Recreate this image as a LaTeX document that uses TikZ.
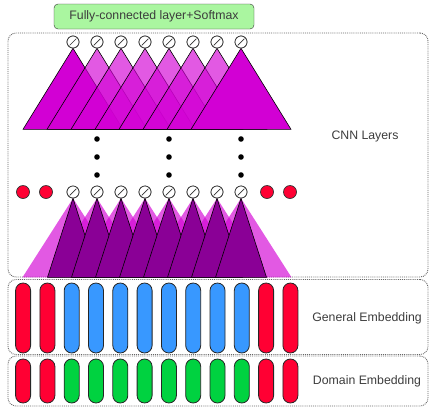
\documentclass[tikz,border=0pt]{standalone}
\usepackage{fontspec}
\setmainfont{Liberation Sans}
\usepackage{tikz}
\usetikzlibrary{positioning, calc, shapes}
\definecolor{tripink}{RGB}{210,0,212}
\definecolor{tripurple}{RGB}{138,0,150}
\definecolor{padred}{RGB}{255,0,51}
\definecolor{embblue}{RGB}{56,152,255}
\definecolor{embgreen}{RGB}{0,210,64}
\definecolor{fcgreen}{RGB}{170,246,160}
\definecolor{labelgray}{RGB}{60,60,60}
\tikzstyle{unit} = [circle, draw=black!80, line width=0.7pt, fill=white, minimum size=12pt, inner sep=0pt,
  path picture={\draw[black!80, line width=0.7pt] ($(path picture bounding box.south west)!0.22!(path picture bounding box.north east)$) -- ($(path picture bounding box.south west)!0.78!(path picture bounding box.north east)$);}]
\tikzstyle{pad} = [circle, draw=black!80, line width=0.7pt, fill=padred, minimum size=13pt, inner sep=0pt]
\tikzstyle{pill} = [rectangle, rounded corners=7.5pt, draw=black!85, line width=0.8pt, minimum width=15pt, inner sep=0pt]
\tikzstyle{frame} = [rectangle, rounded corners=8pt, draw=black!60, densely dotted, line width=0.9pt, inner sep=0pt]
\tikzstyle{label} = [text=labelgray, font=\fontsize{12.3}{14}\selectfont]
\tikzstyle{tri} = [fill=tripink, draw=black, line width=0.6pt, line join=round]

\begin{document}
\begin{tikzpicture}[x=1pt, y=-1pt]
    \useasboundingbox (0,0) rectangle (435,418);

    % Rahmen
    \node (cnnbox) [frame, minimum width=420pt, minimum height=244pt] at (218,155) {};
    \node (genbox) [frame, minimum width=420pt, minimum height=75pt] at (218,317) {};
    \node (dombox) [frame, minimum width=420pt, minimum height=50pt] at (218,381) {};

    % Ausgabe
    \node (fc) [rectangle, rounded corners=4pt, draw=black!80, fill=fcgreen, minimum width=200pt, minimum height=25pt, label] at (154,16.5) {Fully-connected layer+Softmax};

    % obere Schicht
    \foreach \i in {1,...,8}
        \node (t\i) [unit] at (49+24*\i,42) {};
    \fill [tri] (t1.south) -- ++(-50,81) -- ++(100,0) -- cycle;
    \foreach \i in {2,...,7}
        \fill [tri, fill opacity=0.65] (t\i.south) -- ++(-50,81) -- ++(100,0) -- cycle;
    \fill [tri] (t8.south) -- ++(-50,81) -- ++(100,0) -- cycle;
    \foreach \i in {1,...,8}
        \node [unit] at (t\i) {};

    % Punkte
    \foreach \x in {97,169,241}
        \foreach \y in {139,157,175}
            \fill (\x,\y) circle (2.8);

    % untere Schicht
    \foreach \i in {1,...,8}
        \node (b\i) [unit] at (49+24*\i,192) {};
    \node (p1) [pad] at (23,192) {};
    \node (p2) [pad] at (46,192) {};
    \node (p3) [pad] at (267,192) {};
    \node (p4) [pad] at (290,192) {};
    \foreach \i in {1,...,8}
        \fill [tripink, fill opacity=0.65] (b\i.south) -- ++(-50.5,79) -- ++(101,0) -- cycle;
    \foreach \i in {1,...,8}
        \filldraw [fill=tripurple, draw=black, line width=0.6pt, line join=round] (b\i.south) -- ++(-25.5,79) -- ++(51,0) -- cycle;
    \foreach \i in {1,...,8}
        \node [unit] at (b\i) {};

    % Embeddings
    \foreach \i/\c in {1/padred,2/padred,3/embblue,4/embblue,5/embblue,6/embblue,7/embblue,8/embblue,9/embblue,10/embblue,11/padred,12/padred} {
        \node (g\i) [pill, fill=\c, minimum height=70pt] at (-1.2+24.3*\i,318) {};
    }
    \foreach \i/\c in {1/padred,2/padred,3/embgreen,4/embgreen,5/embgreen,6/embgreen,7/embgreen,8/embgreen,9/embgreen,10/embgreen,11/padred,12/padred} {
        \node (d\i) [pill, fill=\c, minimum height=44pt] at (-1.2+24.3*\i,381) {};
    }

    % Beschriftung
    \node (cnnlab) [label] at (365,136) {CNN Layers};
    \node (genlab) [label] at (367,318) {General Embedding};
    \node (domlab) [label] at (367,381) {Domain Embedding};
\end{tikzpicture}
\end{document}
